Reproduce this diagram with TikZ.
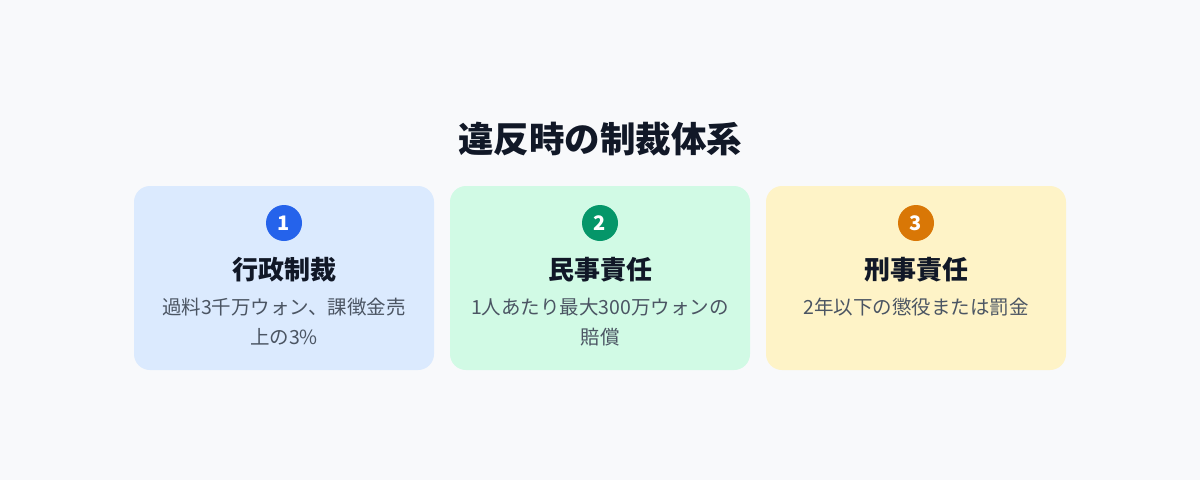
\documentclass[tikz,border=0pt]{standalone}
\usepackage{fontspec}
\setmainfont{Noto Sans CJK JP}
\usetikzlibrary{positioning}
\definecolor{pagebg}{HTML}{F8F9FB}
\definecolor{headfg}{HTML}{111827}
\definecolor{descfg}{HTML}{4B5563}
\definecolor{bluebg}{HTML}{DBEAFE}
\definecolor{bluedot}{HTML}{2563EB}
\definecolor{greenbg}{HTML}{D1FAE5}
\definecolor{greendot}{HTML}{059669}
\definecolor{amberbg}{HTML}{FEF3C7}
\definecolor{amberdot}{HTML}{D97706}
\tikzset{%
    card/.style={inner sep=0pt,outer sep=0pt,shape=rectangle,rounded corners=16pt,minimum width=300pt,minimum height=184pt,anchor=north west},
    badge/.style={circle,inner sep=0pt,minimum size=36pt,text=white,font=\bfseries\fontsize{20}{20}\selectfont},
    cardtitle/.style={inner sep=0pt,text=headfg,font=\bfseries\fontsize{26}{28}\selectfont},
    carddesc/.style={inner sep=0pt,align=center,text=descfg,font=\fontsize{19.5}{30}\selectfont,anchor=north},
}

\begin{document}
\begin{tikzpicture}[x=1pt,y=-1pt]
        \fill[pagebg] (0,0) rectangle (1200,480);
        \node [inner sep=0pt,text=headfg,font=\bfseries\fontsize{35.5}{38}\selectfont] (heading) at (600,139) {違反時の制裁体系};

        \node [card,fill=bluebg] (card1) at (134,186) {};
        \node [badge,fill=bluedot] (badge1) at (284,223) {1};
        \node [cardtitle] (title1) at (284,270) {行政制裁};
        \node [carddesc] (desc1) at (284,297.5) {過料3千万ウォン、課徴金売\\上の3\%};

        \node [card,fill=greenbg] (card2) at (450,186) {};
        \node [badge,fill=greendot] (badge2) at (600,223) {2};
        \node [cardtitle] (title2) at (600,270) {民事責任};
        \node [carddesc] (desc2) at (600,297.5) {1人あたり最大300万ウォンの\\賠償};

        \node [card,fill=amberbg] (card3) at (766,186) {};
        \node [badge,fill=amberdot] (badge3) at (916,223) {3};
        \node [cardtitle] (title3) at (916,270) {刑事責任};
        \node [carddesc] (desc3) at (916,297.5) {2年以下の懲役または罰金};
    \end{tikzpicture}
\end{document}
